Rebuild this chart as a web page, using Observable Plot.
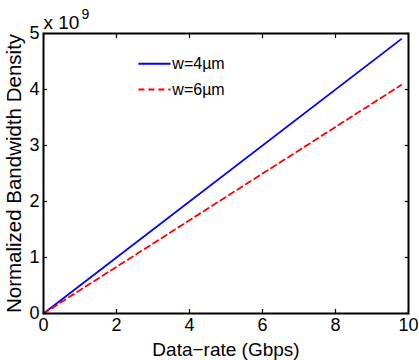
<!DOCTYPE html>
<html><head><meta charset="utf-8">
<script src="https://cdn.jsdelivr.net/npm/d3@7"></script>
<script src="https://cdn.jsdelivr.net/npm/@observablehq/plot@0.6"></script>
<style>body{margin:0;background:#fff;font-family:"Liberation Sans",Arial,sans-serif}</style>
</head><body><div id="chart"></div>
<script>
const dataRate = [0, 9.8];
const bw4 = [0, 4.9];     // x1e9, w=4µm
const bw6 = [0, 4.08];    // x1e9, w=6µm
const xTicks = [0, 2, 4, 6, 8, 10];
const yTicks = [0, 1, 2, 3, 4, 5];
const seriesNames = ["w=4\u00b5m", "w=6\u00b5m"];
const exponentBase = "x 10";
const exponentPower = "9";

const rows = [];
dataRate.forEach((x, i) => {
  rows.push({x, y: bw4[i], s: seriesNames[0]});
  rows.push({x, y: bw6[i], s: seriesNames[1]});
});
const legend = [
  {s: seriesNames[0], color: "#0000ff", dash: null, row: 0},
  {s: seriesNames[1], color: "#ff0000", dash: "6,4", row: 1}
];

const chart = Plot.plot({
  width: 419, height: 360,
  marginLeft: 43, marginRight: 11, marginTop: 33, marginBottom: 47,
  style: {fontFamily: "Liberation Sans, Arial, sans-serif", fontSize: "18px", color: "#000", background: "#fff", overflow: "visible"},
  x: {domain: [0, 10], ticks: xTicks},
  y: {domain: [0, 5], ticks: yTicks},
  marks: [
    Plot.axisX(xTicks, {anchor: "bottom", tickSize: -4, text: null, label: null, strokeWidth: 1.2}),
    Plot.axisX(xTicks, {anchor: "top", tickSize: -4, text: null, label: null, strokeWidth: 1.2}),
    Plot.axisY(yTicks, {anchor: "left", tickSize: -4, text: null, label: null, strokeWidth: 1.2}),
    Plot.axisY(yTicks, {anchor: "right", tickSize: -4, text: null, label: null, strokeWidth: 1.2}),
    Plot.axisX(xTicks, {anchor: "bottom", tickSize: 0, tickPadding: 5, fontSize: 18, tickFormat: "d", label: "Data\u2212rate (Gbps)", labelAnchor: "center", labelOffset: 42, labelArrow: "none"}),
    Plot.axisY(yTicks, {anchor: "left", tickSize: 0, tickPadding: 4, fontSize: 18, tickFormat: "d", label: "Normalized Bandwidth Density", labelAnchor: "center", labelOffset: 37, labelArrow: "none"}),
    Plot.line(rows.filter(d => d.s === seriesNames[0]), {x: "x", y: "y", stroke: "#0000ff", strokeWidth: 1.8}),
    Plot.line(rows.filter(d => d.s === seriesNames[1]), {x: "x", y: "y", stroke: "#ff0000", strokeWidth: 1.8, strokeDasharray: "6,4"}),
    Plot.frame({stroke: "#000", strokeWidth: 2}),
    // exponent label
    Plot.text([exponentBase], {frameAnchor: "top-left", text: d => d, textAnchor: "start", lineAnchor: "bottom", dy: -5, fontSize: 19}),
    Plot.text([exponentPower], {frameAnchor: "top-left", text: d => d, textAnchor: "start", lineAnchor: "bottom", dx: 38, dy: -15, fontSize: 14}),
    // legend
    Plot.link(legend, {x1: () => 2.6, x2: () => 3.48, y1: d => 4.46 - d.row * 0.46, y2: d => 4.46 - d.row * 0.46, stroke: d => d.color, strokeWidth: 1.8}),
    Plot.text(legend, {x: () => 3.53, y: d => 4.46 - d.row * 0.46, text: "s", textAnchor: "start", fontSize: 16}),
  ]
});
chart.querySelectorAll("[aria-label='link'] path, [aria-label='link'] line").forEach((p, i) => {
  if (legend[i].dash) p.setAttribute("stroke-dasharray", legend[i].dash);
});
// axis titles
chart.querySelectorAll("[aria-label='x-axis label'] text").forEach(t => t.style.fontSize = "19px");
chart.querySelectorAll("[aria-label='y-axis label'] text").forEach(t => t.style.fontSize = "20.5px");
document.getElementById("chart").appendChild(chart);
</script>
</body></html>
